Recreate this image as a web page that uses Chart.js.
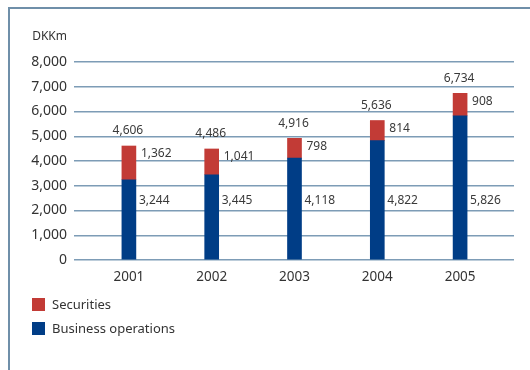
<!DOCTYPE html>
<html>
<head>
<meta charset="utf-8">
<script src="https://cdn.jsdelivr.net/npm/chart.js@4/dist/chart.umd.min.js"></script>
<style>
  body { margin: 0; background: #fff; font-family: "Noto Sans", sans-serif; }
  #wrap { position: relative; width: 530px; height: 370px; overflow: hidden; }
  #frame { position: absolute; left: 8px; top: 7px; right: 0; bottom: 0;
           border-top: 2px solid #6f8fa9; border-left: 2px solid #6f8fa9; }
  #myChart { position: absolute; left: 0; top: 0; }
  #legend { position: absolute; left: 32px; top: 296px; font-size: 13px; color: #333; }
  #legend div { height: 24px; line-height: 16px; }
  #legend span.box { display: inline-block; width: 13px; height: 13px; vertical-align: -2px; margin-right: 7px; }
</style>
</head>
<body>
<div id="wrap">
  <div id="frame"></div>
  <canvas id="myChart" width="530" height="370"></canvas>
  <div id="legend"></div>
</div>
<script>
'use strict';
let years = ['2001', '2002', '2003', '2004', '2005'];
let business = [3244, 3445, 4118, 4822, 5826];
let securities = [1362, 1041, 798, 814, 908];
let yTicks = [0, 1000, 2000, 3000, 4000, 5000, 6000, 7000, 8000];
let unit = 'DKKm';

let red = '#c23b36';
let blue = '#003d86';

function fmt(v){
    return v.toLocaleString('en-US');
}

// bars sit on a linear x scale so the year slots can be spaced freely
let businessPoints = [];
let securitiesPoints = [];
for(let i = 0 ; i < years.length; i++){
    businessPoints.push({x: i, y: business[i]});
    securitiesPoints.push({x: i, y: securities[i]});
}

// value labels, totals and the unit caption
let labelPlugin = {
    id: 'valueLabels',
    afterDatasetsDraw(chart){
        let ctx = chart.ctx;
        let xs = chart.scales.x;
        let ys = chart.scales.y;
        ctx.save();
        ctx.fillStyle = '#3a3a3a';
        ctx.font = '12px "Noto Sans"';
        ctx.textBaseline = 'middle';
        for(let i = 0 ; i < years.length; i++){
            let cx = xs.getPixelForValue(i);
            let total = business[i] + securities[i];
            let top = ys.getPixelForValue(total);
            ctx.textAlign = 'center';
            ctx.fillText(fmt(total), cx - 1, top - 15);
            ctx.textAlign = 'left';
            ctx.fillText(fmt(securities[i]), cx + 12, top + 8);
            ctx.fillText(fmt(business[i]), cx + 10, ys.getPixelForValue(2420));
        }
        ctx.font = '12px "Noto Sans"';
        ctx.fillStyle = '#333';
        ctx.textAlign = 'right';
        ctx.fillText(unit, ys.right - 7, ys.top - 25);
        ctx.restore();
    }
};

let ctx = document.getElementById('myChart').getContext('2d');
let chart = new Chart(ctx, {
    type: 'bar',
    data: {
        datasets: [{
            label: 'Business operations',
            backgroundColor: blue,
            data: businessPoints,
            barThickness: 14
        },
        {
            label: 'Securities',
            backgroundColor: red,
            data: securitiesPoints,
            barThickness: 14
        }]
    },
    options: {
        responsive: false,
        animation: false,
        layout: { padding: { left: 0, top: 62, right: 16, bottom: 80 } },
        plugins: {
            legend: { display: false },
            tooltip: { enabled: false }
        },
        scales: {
            x: {
                type: 'linear',
                stacked: true,
                offset: false,
                min: -0.663,
                max: 4.651,
                grid: { display: false },
                border: { display: false },
                afterFit: function(scale){ scale.height = 30; },
                ticks: {
                    stepSize: 1,
                    includeBounds: false,
                    padding: 1,
                    color: '#333',
                    font: { family: 'Noto Sans', size: 13.5 },
                    callback: function(v){ return years[v] !== undefined ? years[v] : ''; }
                }
            },
            y: {
                stacked: true,
                min: yTicks[0],
                max: yTicks[yTicks.length - 1],
                afterFit: function(scale){ scale.width = 74; },
                grid: { color: '#7d9cb6', lineWidth: 1.5, drawTicks: false },
                border: { display: false },
                ticks: {
                    stepSize: 1000,
                    padding: 7,
                    color: '#333',
                    font: { family: 'Noto Sans', size: 14 },
                    callback: function(v){ return fmt(v); }
                }
            }
        }
    },
    plugins: [labelPlugin]
});

// legend, top item first
let legendEl = document.getElementById('legend');
let sets = chart.data.datasets.slice().reverse();
for(let i = 0 ; i < sets.length; i++){
    let row = document.createElement('div');
    let box = document.createElement('span');
    box.className = 'box';
    box.style.background = sets[i].backgroundColor;
    row.appendChild(box);
    row.appendChild(document.createTextNode(sets[i].label));
    legendEl.appendChild(row);
}
</script>
</body>
</html>
